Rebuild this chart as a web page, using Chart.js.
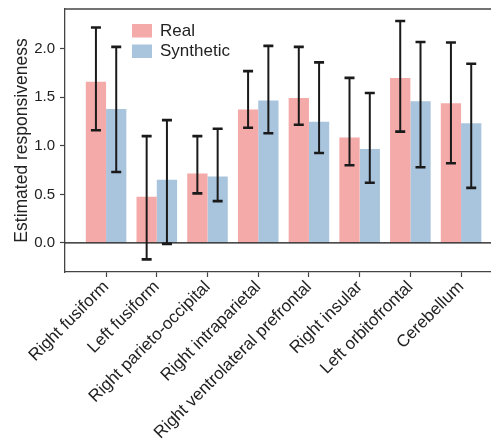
<!DOCTYPE html>
<html><head><meta charset="utf-8">
<script src="https://cdn.jsdelivr.net/npm/chart.js@4"></script>
<style>html,body{margin:0;padding:0;background:#fff}#wrap{width:491px;height:444px}</style>
</head><body><div id="wrap"><canvas id="c" width="491" height="444"></canvas></div>
<script>
const categories = ["Right fusiform","Left fusiform","Right parieto-occipital","Right intraparietal","Right ventrolateral prefrontal","Right insular","Left orbitofrontal","Cerebellum"];
const seriesNames = ["Real","Synthetic"];
const realValues  = [1.66, 0.475, 0.715, 1.374, 1.494, 1.087, 1.70, 1.44];
const realLower   = [1.16, -0.17, 0.51, 1.187, 1.217, 0.80, 1.146, 0.82];
const realUpper   = [2.22, 1.10, 1.10, 1.77, 2.02, 1.70, 2.287, 2.065];
const synthValues = [1.38, 0.65, 0.684, 1.467, 1.248, 0.967, 1.46, 1.234];
const synthLower  = [0.73, -0.01, 0.43, 1.13, 0.926, 0.62, 0.78, 0.567];
const synthUpper  = [2.02, 1.265, 1.176, 2.03, 1.86, 1.545, 2.07, 1.846];
const yTicks = [0.0, 0.5, 1.0, 1.5, 2.0];

const FONT = "'Liberation Sans', Arial, Helvetica, sans-serif";
const colors = ['rgb(244,170,168)', 'rgb(169,197,222)'];
const errLow = [realLower, synthLower];
const errHigh = [realUpper, synthUpper];

const extras = {
  id: 'extras',
  afterDatasetsDraw(chart) {
    const ctx = chart.ctx, ys = chart.scales.y, area = chart.chartArea;
    ctx.save();
    const y0 = ys.getPixelForValue(0);
    ctx.strokeStyle = '#111'; ctx.lineWidth = 1.2;
    ctx.beginPath(); ctx.moveTo(area.left, y0); ctx.lineTo(area.right, y0); ctx.stroke();
    ctx.strokeStyle = '#1a1a1a';
    chart.data.datasets.forEach((ds, di) => {
      const meta = chart.getDatasetMeta(di);
      meta.data.forEach((bar, i) => {
        const x = bar.x;
        const yl = ys.getPixelForValue(errLow[di][i]);
        const yh = ys.getPixelForValue(errHigh[di][i]);
        ctx.lineWidth = 2;
        ctx.beginPath(); ctx.moveTo(x, yl); ctx.lineTo(x, yh); ctx.stroke();
        ctx.lineWidth = 2.6;
        ctx.beginPath();
        ctx.moveTo(x - 5, yl); ctx.lineTo(x + 5, yl);
        ctx.moveTo(x - 5, yh); ctx.lineTo(x + 5, yh);
        ctx.stroke();
      });
    });
    ctx.strokeStyle = '#444'; ctx.lineWidth = 1.3;
    ctx.beginPath(); ctx.moveTo(area.left, area.top); ctx.lineTo(area.right, area.top); ctx.stroke();
    ctx.font = '17px ' + FONT;
    ctx.textBaseline = 'middle';
    ctx.textAlign = 'left';
    seriesNames.forEach((name, k) => {
      const bx = area.left + 67, by = area.top + 15 + k * 20.5;
      ctx.fillStyle = colors[k];
      ctx.fillRect(bx, by, 20, 13.5);
      ctx.fillStyle = '#222';
      ctx.fillText(name, bx + 28, by + 7);
    });
    ctx.restore();
  }
};

new Chart(document.getElementById('c'), {
  type: 'bar',
  data: {
    datasets: [
      { label: seriesNames[0], data: realValues.map((v, i) => ({x: i, y: v})), backgroundColor: colors[0], borderWidth: 0 },
      { label: seriesNames[1], data: synthValues.map((v, i) => ({x: i, y: v})), backgroundColor: colors[1], borderWidth: 0 }
    ]
  },
  options: {
    responsive: false,
    animation: false,
    devicePixelRatio: 1,
    layout: { padding: { top: 9, left: 0, right: 0, bottom: 0 } },
    datasets: { bar: { categoryPercentage: 0.8, barPercentage: 1.0 } },
    plugins: { legend: { display: false }, tooltip: { enabled: false } },
    scales: {
      x: {
        type: 'linear', min: -0.81, max: 7.59, offset: false,
        afterBuildTicks: s => { s.ticks = categories.map((c, i) => ({ value: i })); },
        afterFit: s => { s.height = 172; s.paddingLeft = 0; s.paddingRight = 0; },
        ticks: {
          autoSkip: false, minRotation: 45, maxRotation: 45, padding: 0,
          callback: v => categories[v] ?? '',
          font: { family: FONT, size: 17 }, color: '#222'
        },
        grid: { offset: false, drawOnChartArea: false, drawTicks: true, tickLength: 5, color: '#444', tickWidth: 1.2 },
        border: { display: true, color: '#444', width: 1.3 }
      },
      y: {
        min: -0.3, max: 2.41,
        afterBuildTicks: s => { s.ticks = yTicks.map(v => ({ value: v })); },
        afterFit: s => { s.width = 65; s.paddingTop = 0; s.paddingBottom = 0; },
        ticks: {
          padding: 5,
          callback: v => Number(v).toFixed(1),
          font: { family: FONT, size: 15 }, color: '#222'
        },
        title: { display: true, text: 'Estimated responsiveness', font: { family: FONT, size: 17.5 }, color: '#222', padding: { top: 12, bottom: 0 } },
        grid: { drawOnChartArea: false, drawTicks: true, tickLength: 5, color: '#444', tickWidth: 1.2 },
        border: { display: true, color: '#444', width: 1.3 }
      }
    }
  },
  plugins: [extras]
});
</script>
</body></html>
